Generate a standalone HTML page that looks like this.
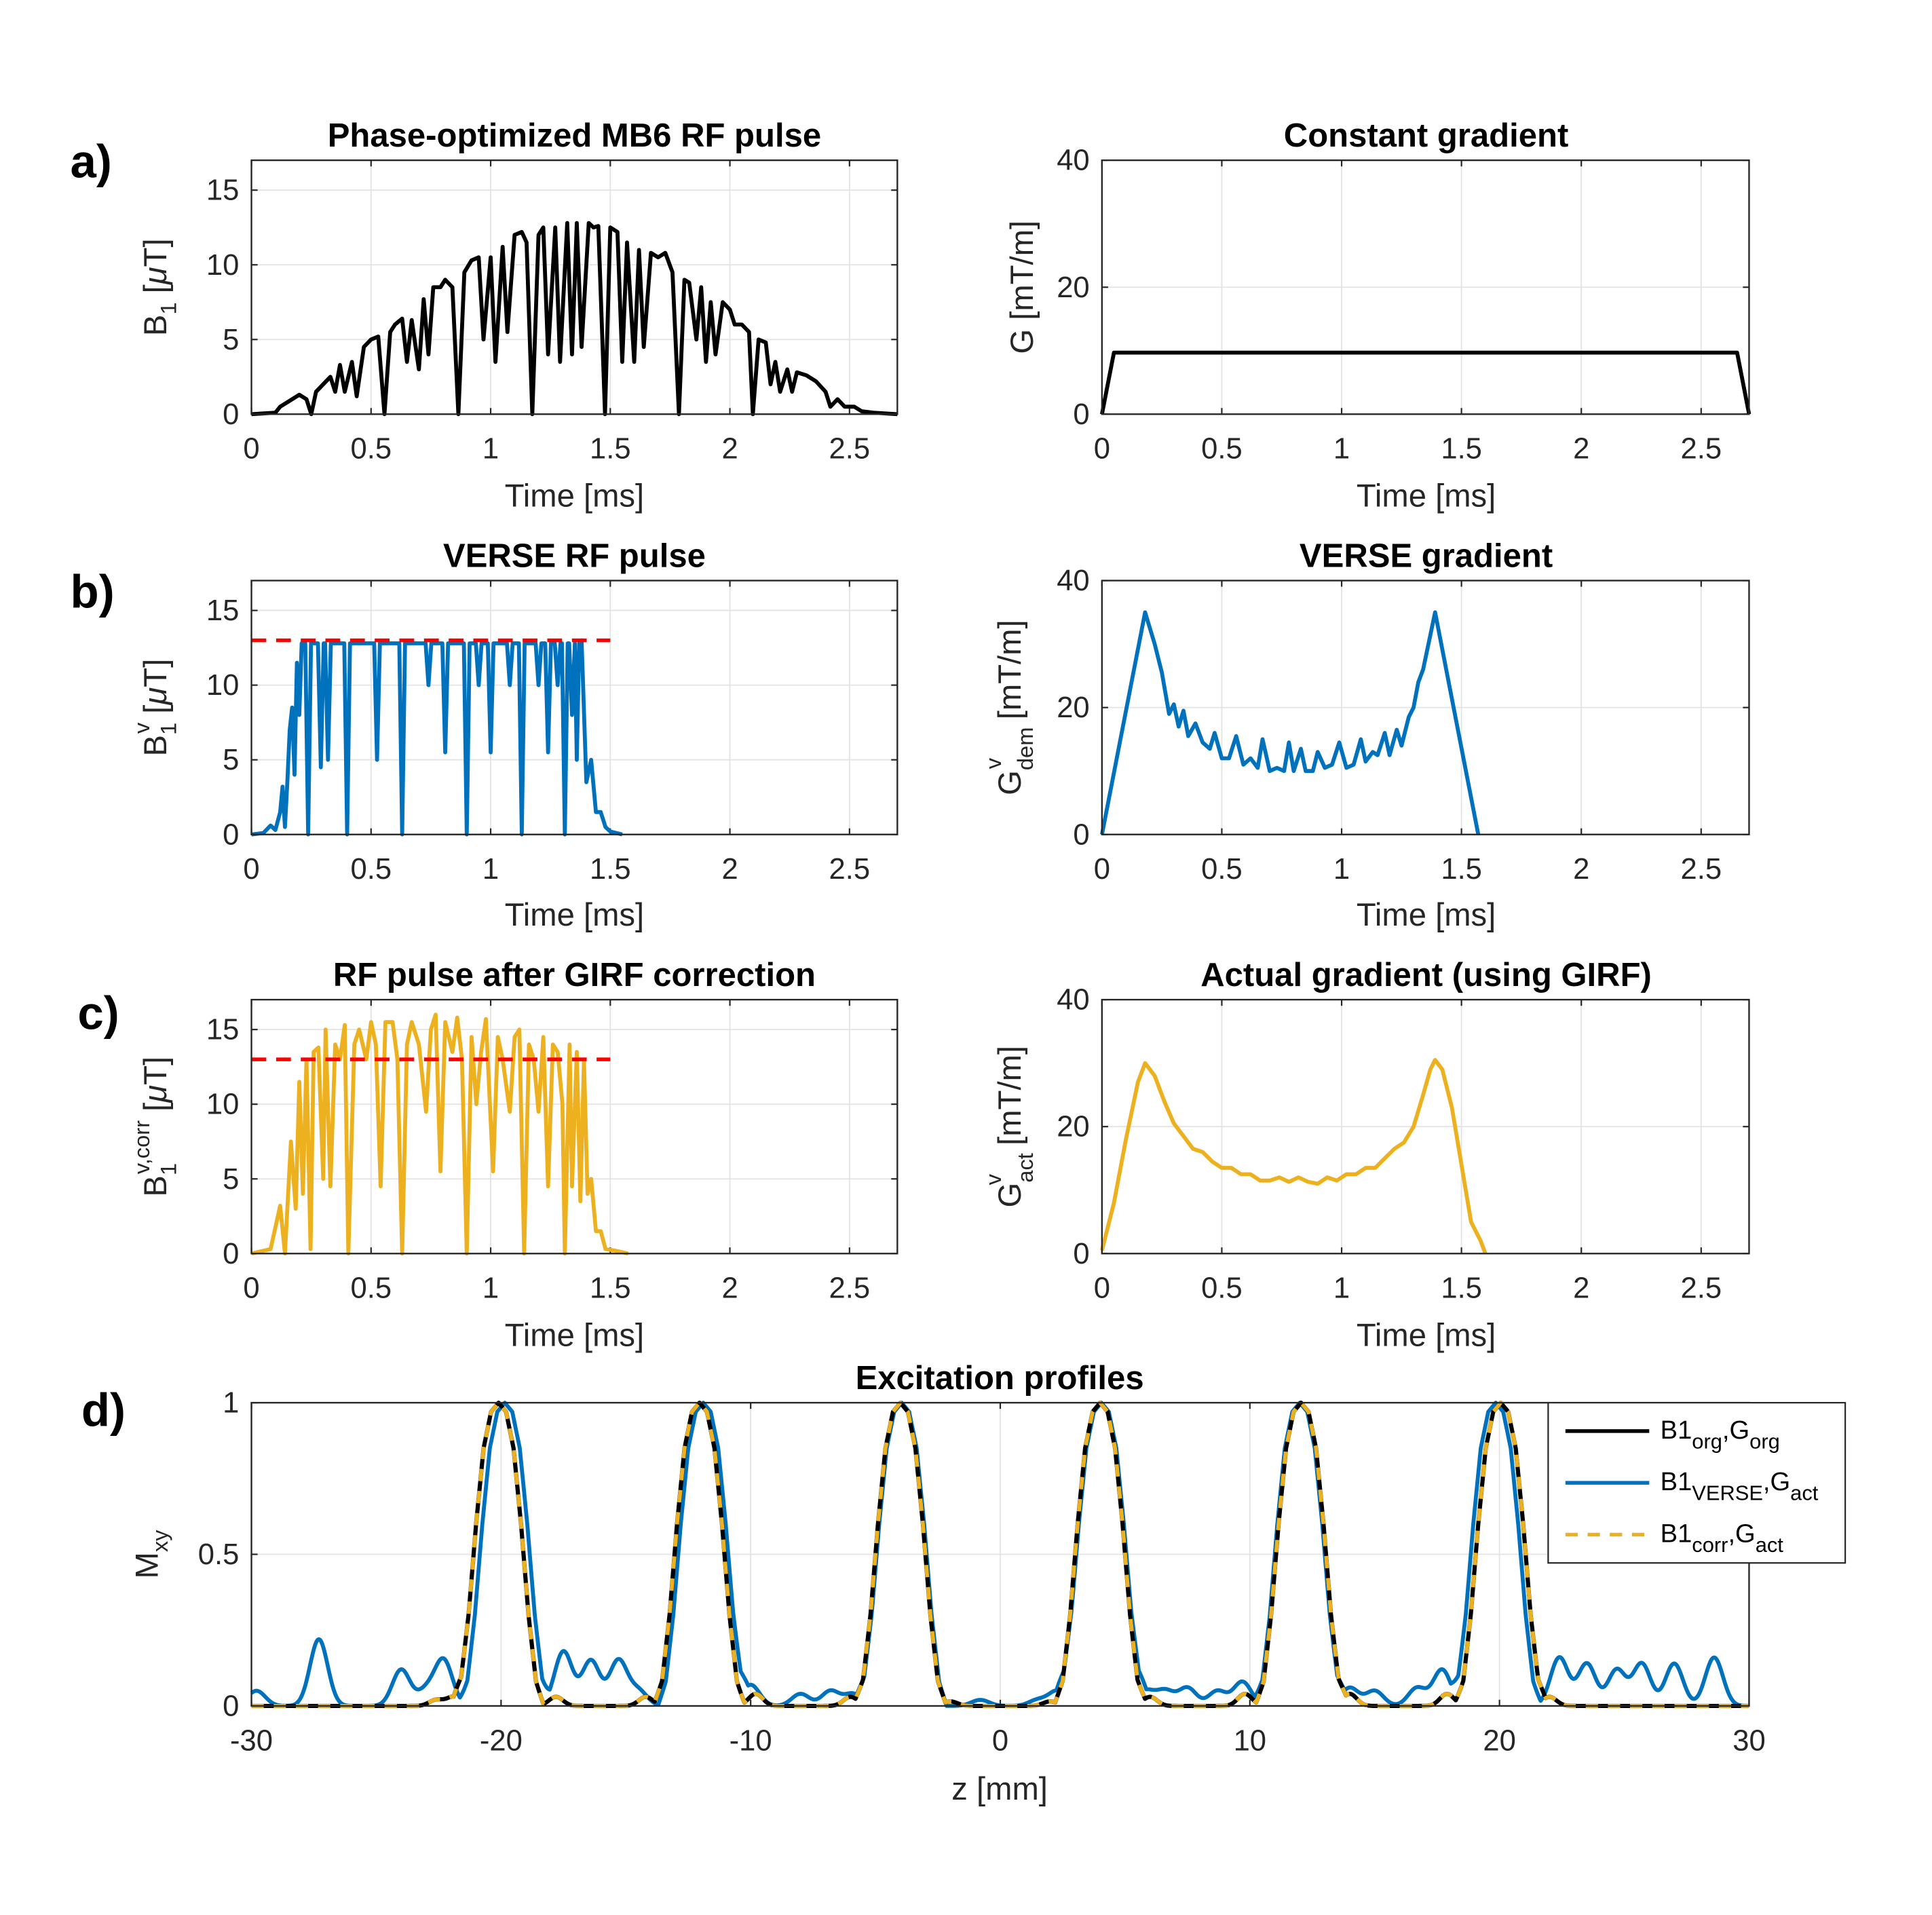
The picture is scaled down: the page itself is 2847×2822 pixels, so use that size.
<!DOCTYPE html>
<html><head><meta charset="utf-8"><style>
html,body{margin:0;padding:0;background:#fff;}
svg{display:block;}
text{font-family:"Liberation Sans",Arial,sans-serif;}
</style></head><body>
<svg id="fig" width="2847" height="2822" viewBox="0 0 1567.4 1553.6" xmlns="http://www.w3.org/2000/svg"></svg>
<script>
// ---------- DATA ----------
const aT=[0,0.1,0.12,0.15,0.18,0.2,0.23,0.25,0.27,0.3,0.33,0.35,0.37,0.39,0.42,0.44,0.47,0.5,0.53,0.556,0.58,0.6,0.63,0.65,0.67,0.7,0.72,0.74,0.76,0.79,0.81,0.84,0.865,0.89,0.92,0.95,0.97,1.0,1.02,1.05,1.07,1.1,1.13,1.15,1.174,1.2,1.22,1.24,1.27,1.29,1.32,1.34,1.36,1.38,1.41,1.43,1.45,1.478,1.5,1.53,1.55,1.57,1.6,1.62,1.64,1.67,1.7,1.73,1.76,1.787,1.81,1.83,1.86,1.88,1.9,1.92,1.94,1.97,2.0,2.02,2.05,2.08,2.096,2.12,2.15,2.17,2.19,2.21,2.24,2.26,2.28,2.32,2.36,2.4,2.42,2.45,2.48,2.52,2.55,2.6,2.7];
const aV=[0,0.1,0.5,0.8,1.1,1.3,1.0,0,1.5,2.0,2.5,1.5,3.3,1.5,3.5,1.2,4.5,5.0,5.2,0,5.5,6.0,6.4,3.5,6.3,3.0,7.7,4.0,8.5,8.5,9.0,8.5,0,9.5,10.3,10.5,5.0,10.5,3.5,11.2,5.5,12.0,12.2,11.5,0,12.0,12.5,4.0,12.5,3.5,12.8,4.0,12.8,4.5,12.8,12.5,12.6,0,12.5,12.2,3.5,11.5,3.5,11.0,4.5,10.8,10.5,10.8,9.5,0,9.0,8.8,5.0,8.5,3.5,7.5,4.0,7.5,7.0,6.0,6.0,5.5,0,5.0,4.8,2.0,3.5,1.5,3.0,1.5,2.8,2.6,2.2,1.5,0.5,1.0,0.5,0.5,0.2,0.1,0];
const gConstT=[0,0.05,2.65,2.7];
const gConstV=[0,9.7,9.7,0];
const bPlateau=12.8;
const bRiseT=[0,0.05,0.08,0.1,0.12,0.13,0.14,0.15,0.16,0.17,0.18,0.19,0.2,0.21];
const bRiseV=[0,0.1,0.6,0.3,1.5,3.2,0.5,3.5,7,8.5,4,11.5,8,12.8];
const bDipT=[0.237,0.29,0.32,0.40,0.525,0.63,0.74,0.81,0.9,0.95,1.0,1.08,1.13,1.2,1.24,1.28,1.31,1.34];
const bDipV=[0,4.5,5,0,5,0,10,5.5,0,10,5.5,10,0,10,5.5,10,0,8];
const bTailT=[1.36,1.37,1.38,1.40,1.42,1.44,1.46,1.48,1.5,1.55];
const bTailV=[5,12.8,13,3.5,5,1.5,1.5,0.5,0.2,0];
const gbT=[0,0.18,0.22,0.25,0.28,0.3,0.32,0.34,0.36,0.39,0.42,0.45,0.47,0.5,0.53,0.56,0.59,0.62,0.65,0.67,0.7,0.73,0.76,0.78,0.8,0.83,0.85,0.88,0.9,0.93,0.96,0.99,1.02,1.05,1.08,1.1,1.13,1.15,1.18,1.2,1.23,1.25,1.28,1.3,1.32,1.34,1.39,1.57];
const gbV=[0,35,30,25.5,19,20.5,17,19.5,15.5,17.5,14.5,13.5,16,12,12,15.5,11,12,10.5,15,10,10.5,10,14.5,10,13.5,10,10,13,10.5,11,14.5,10.5,11,15,11.5,13,12.5,16,12.5,16.5,14,18.5,20,24,26,35,0];
const cT=[0,0.08,0.12,0.14,0.165,0.185,0.2,0.215,0.23,0.247,0.26,0.28,0.3,0.31,0.33,0.35,0.37,0.39,0.405,0.43,0.45,0.48,0.5,0.52,0.54,0.56,0.59,0.61,0.63,0.65,0.67,0.7,0.73,0.75,0.77,0.79,0.81,0.84,0.86,0.88,0.9,0.92,0.94,0.96,0.98,1.01,1.03,1.05,1.08,1.1,1.12,1.14,1.16,1.18,1.2,1.22,1.24,1.26,1.28,1.3,1.31,1.33,1.34,1.36,1.375,1.39,1.405,1.42,1.44,1.46,1.48,1.52,1.575];
const cV=[0,0.3,3.2,0,7.5,3,11.5,4,13,0.3,13.5,13.8,5,15,4.5,14,13,15.3,0,14,15,13,15.5,14,4.5,15.5,15.5,13,0,14,15.5,14,9.5,15,16,5.5,15.5,13.5,15.8,13,0,14.5,10,13.5,15.7,5.5,14.5,13,9.5,14.5,15,0,14,13,9.5,14.5,4.5,14,13.5,10,0,14,4.5,13.5,3.5,13,4,5,1.5,1.5,0.3,0.2,0];
const gcT=[0,0.05,0.1,0.15,0.18,0.22,0.26,0.3,0.35,0.38,0.42,0.46,0.5,0.54,0.58,0.62,0.66,0.7,0.74,0.78,0.82,0.86,0.9,0.94,0.98,1.02,1.06,1.1,1.14,1.18,1.22,1.26,1.3,1.34,1.37,1.39,1.42,1.46,1.5,1.54,1.58,1.6];
const gcV=[0.5,8,18,27,30,28,24,20.5,18,16.5,16,14.5,13.5,13.5,12.5,12.5,11.5,11.5,12,11.3,12,11.3,11,12,11.5,12.5,12.5,13.5,13.5,15,16.5,17.5,20,25,29,30.5,29,23,14,5,2,0];
const redLimitV=13.0;
const redLimitEndT=1.5;
// excitation profile data
const peakOffsets=[-1.8,-1.5,-1.2,-0.9,-0.6,-0.3,0,0.3,0.6,0.9,1.2,1.5,1.8];
const peakShape=[0,0.08,0.3,0.6,0.85,0.97,1,0.97,0.85,0.6,0.3,0.08,0];
const blackCenters=[-20.1,-12.05,-4,4,12.05,20.05];
const blueCenters=[-19.85,-11.9,-3.95,4.05,12.0,19.85];
const blueLobeZ=[-29.8,-27.3,-24,-23,-22.3,-17.5,-16.4,-15.3,-14.5,-10.0,-8.0,-6.8,-5.9,-0.8,1.5,2.3,5.8,6.6,7.5,8.7,9.7,14.0,15.0,16.7,17.7,22.4,23.5,24.7,25.7,27.0,28.6];
const blueLobeV=[0.05,0.22,0.12,0.05,0.15,0.18,0.15,0.15,0.05,0.07,0.04,0.05,0.04,0.02,0.02,0.05,0.05,0.05,0.06,0.05,0.08,0.06,0.05,0.06,0.12,0.16,0.14,0.12,0.14,0.14,0.16];
const smallLobeZ=[-22.6,-21.9,-17.8,-14.2,-9.8,-6.0,-2.0,2.0,6.0,9.8,14.0,17.9,22.0];
const smallLobeV=[0.02,0.03,0.03,0.03,0.04,0.03,0.015,0.015,0.03,0.04,0.04,0.04,0.03];
const xTicksT=[0,0.5,1,1.5,2,2.5];
const yTicksB=[0,5,10,15];
const yTicksG=[0,20,40];
const xTicksZ=[-30,-20,-10,0,10,20,30];
const yTicksM=[0,0.5,1];

// ---------- DRAWING ----------
const NS='http://www.w3.org/2000/svg';
const svg=document.getElementById('fig');
function el(tag,attrs,parent){const e=document.createElementNS(NS,tag);for(const k in attrs)e.setAttribute(k,attrs[k]);(parent||svg).appendChild(e);return e;}
const BLUE='#0072BD',YEL='#EDB120';
function makeAxes(name,x0,x1,y0,y1,xmin,xmax,ymin,ymax,xt,yt){
  const g=el('g',{});
  
  
  const sx=v=>x0+(v-xmin)/(xmax-xmin)*(x1-x0);
  const sy=v=>y1-(v-ymin)/(ymax-ymin)*(y1-y0);
  el('rect',{x:x0,y:y0,width:x1-x0,height:y1-y0,fill:'#fff'},g);
  xt.forEach(v=>{const X=sx(v);el('line',{x1:X,x2:X,y1:y0,y2:y1,stroke:'#e3e3e3','stroke-width':1},g);
    el('line',{x1:X,x2:X,y1:y1,y2:y1-5,stroke:'#262626','stroke-width':1.2},g);el('line',{x1:X,x2:X,y1:y0,y2:y0+5,stroke:'#262626','stroke-width':1.2},g);
    const t=el('text',{x:X,y:y1+36,'font-size':24,'text-anchor':'middle',fill:'#262626'},g);t.textContent=String(v);
    });
  yt.forEach(v=>{const Y=sy(v);el('line',{x1:x0,x2:x1,y1:Y,y2:Y,stroke:'#e3e3e3','stroke-width':1},g);
    el('line',{x1:x0,x2:x0+5,y1:Y,y2:Y,stroke:'#262626','stroke-width':1.2},g);el('line',{x1:x1,x2:x1-5,y1:Y,y2:Y,stroke:'#262626','stroke-width':1.2},g);
    const t=el('text',{x:x0-10,y:Y+8,'font-size':24,'text-anchor':'end',fill:'#262626'},g);t.textContent=String(v);
    });
  el('rect',{x:x0,y:y0,width:x1-x0,height:y1-y0,fill:'none',stroke:'#262626','stroke-width':1.3});
  return {g,sx,sy};
}
function line(ax,xs,ys,color,w,name,dash){
  let d='';xs.forEach((x,i)=>{d+=(i?'L':'M')+ax.sx(x).toFixed(2)+' '+ax.sy(ys[i]).toFixed(2);});
  const p=el('path',{d:d,fill:'none',stroke:color,'stroke-width':w,'stroke-linejoin':'round'},ax.g);
  if(dash)p.setAttribute('stroke-dasharray',dash);
  
  
  return p;
}
function text(x,y,str,size,opts){const t=el('text',Object.assign({x:x,y:y,'font-size':size,fill:'#000'},opts||{}));t.innerHTML=str;return t;}
function title(x,y,s){const t=text(x,y,s,27,{'text-anchor':'middle','font-weight':'bold'});}
function ylabel(x,y,s){const t=text(0,0,s,26,{'text-anchor':'middle',transform:`translate(${x},${y}) rotate(-90)`,fill:'#262626'});}
function xlabel(x,y,s){const t=text(x,y,s,26,{'text-anchor':'middle',fill:'#262626'});}
function letter(x,y,s){const t=text(x,y,s,38,{'font-weight':'bold'});}

const L=[204,728],R=[894,1419];
const rows=[[130,336],[471,677],[811,1017]];
let ax=makeAxes('rf-original-axes',L[0],L[1],rows[0][0],rows[0][1],0,2.7,0,17,xTicksT,yTicksB);
line(ax,aT,aV,'#000',3.2,'rf-original-line');
ax=makeAxes('gradient-constant-axes',R[0],R[1],rows[0][0],rows[0][1],0,2.7,0,40,xTicksT,yTicksG);
line(ax,gConstT,gConstV,'#000',3.2,'gradient-constant-line');
ax=makeAxes('rf-verse-axes',L[0],L[1],rows[1][0],rows[1][1],0,2.7,0,17,xTicksT,yTicksB);
(function(){let t=bRiseT.slice(),v=bRiseV.slice();
 bDipT.forEach((d,i)=>{t.push(d-0.012,d,d+0.012);v.push(bPlateau,bDipV[i],bPlateau);});
 t=t.concat(bTailT);v=v.concat(bTailV);
 line(ax,t,v,BLUE,3.2,'rf-verse-line');})();
line(ax,[0,redLimitEndT],[redLimitV,redLimitV],'#ff0000',3,'b1-limit-line','12 8');
ax=makeAxes('gradient-verse-axes',R[0],R[1],rows[1][0],rows[1][1],0,2.7,0,40,xTicksT,yTicksG);
line(ax,gbT,gbV,BLUE,3.2,'gradient-verse-line');
ax=makeAxes('rf-corrected-axes',L[0],L[1],rows[2][0],rows[2][1],0,2.7,0,17,xTicksT,yTicksB);
line(ax,cT,cV,YEL,3.2,'rf-corrected-line');
line(ax,[0,redLimitEndT],[redLimitV,redLimitV],'#ff0000',3,'b1-limit-line','12 8');
ax=makeAxes('gradient-actual-axes',R[0],R[1],rows[2][0],rows[2][1],0,2.7,0,40,xTicksT,yTicksG);
line(ax,gcT,gcV,YEL,3.2,'gradient-actual-line');
ax=makeAxes('excitation-profile-axes',204,1419,1138,1384,-30,30,0,1,xTicksZ,yTicksM);
function shapeAt(dz){if(dz<=peakOffsets[0]||dz>=peakOffsets[peakOffsets.length-1])return 0;
 for(let i=1;i<peakOffsets.length;i++){if(dz<=peakOffsets[i]){const f=(dz-peakOffsets[i-1])/(peakOffsets[i]-peakOffsets[i-1]);return peakShape[i-1]+f*(peakShape[i]-peakShape[i-1]);}}return 0;}
function profile(centers,lz,lv,w){const zs=[],vs=[];for(let z=-30;z<=30.001;z+=0.05){let m=0;centers.forEach(c=>{m=Math.max(m,shapeAt(z-c));});
 let s=0;lz.forEach((q,i)=>{const d=(z-q)/w;s+=lv[i]*Math.exp(-d*d);});zs.push(z);vs.push(Math.min(1,m+s*(1-m)));}return [zs,vs];}
const pb=profile(blackCenters,smallLobeZ,smallLobeV,0.4);
const pu=profile(blueCenters,blueLobeZ,blueLobeV,0.5);
line(ax,pu[0],pu[1],BLUE,3.2,'profile-verse-line');
line(ax,pb[0],pb[1],'#000',3.4,'profile-original-line');
line(ax,pb[0],pb[1],YEL,3.2,'profile-corrected-line','10 8');
const lg=el('g',{});


el('rect',{x:1256,y:1138,width:241,height:130,fill:'#fff',stroke:'#262626','stroke-width':1.2},lg);
const legItems=[['#000',null,'B1<tspan font-size="17" dy="8">org</tspan><tspan dy="-8">,G</tspan><tspan font-size="17" dy="8">org</tspan>'],
 [BLUE,null,'B1<tspan font-size="17" dy="8">VERSE</tspan><tspan dy="-8">,G</tspan><tspan font-size="17" dy="8">act</tspan>'],
 [YEL,'10 8','B1<tspan font-size="17" dy="8">corr</tspan><tspan dy="-8">,G</tspan><tspan font-size="17" dy="8">act</tspan>']];
legItems.forEach((it,i)=>{const y=1161+i*42;
 const l=el('line',{x1:1270,x2:1338,y1:y,y2:y,stroke:it[0],'stroke-width':3},lg);if(it[1])l.setAttribute('stroke-dasharray',it[1]);
 const t=el('text',{x:1347,y:y+6,'font-size':21,fill:'#000'},lg);t.innerHTML=it[2];
 });

title(466,119,'Phase-optimized MB6 RF pulse');title(1157,119,'Constant gradient');
title(466,460,'VERSE RF pulse');title(1157,460,'VERSE gradient');
title(466,800,'RF pulse after GIRF correction');title(1157,800,'Actual gradient (using GIRF)');
title(811,1127,'Excitation profiles');
[411,751,1092].forEach(y=>{xlabel(466,y,'Time [ms]');xlabel(1157,y,'Time [ms]');});
xlabel(811,1460,'z [mm]');
ylabel(135,233,'B<tspan font-size="18" dy="8">1</tspan><tspan dy="-8"> [</tspan><tspan font-style="italic">μ</tspan>T]');
ylabel(838,233,'G [mT/m]');
ylabel(135,574,'B<tspan font-size="18" dy="8">1</tspan><tspan font-size="18" dx="-9" dy="-22">v</tspan><tspan dy="14"> [</tspan><tspan font-style="italic">μ</tspan>T]');
ylabel(828,574,'G<tspan font-size="18" dy="10">dem</tspan><tspan font-size="18" dx="-34" dy="-26">v</tspan><tspan dx="24" dy="16"> [mT/m]</tspan>');
ylabel(135,914,'B<tspan font-size="18" dy="8">1</tspan><tspan font-size="18" dx="-9" dy="-22">v,corr</tspan><tspan dy="14"> [</tspan><tspan font-style="italic">μ</tspan>T]');
ylabel(828,914,'G<tspan font-size="18" dy="10">act</tspan><tspan font-size="18" dx="-26" dy="-26">v</tspan><tspan dx="16" dy="16"> [mT/m]</tspan>');
ylabel(128,1261,'M<tspan font-size="18" dy="8">xy</tspan>');
letter(57,144,'a)');letter(57,493,'b)');letter(63,835,'c)');letter(66,1157,'d)');
</script>
</body></html>
